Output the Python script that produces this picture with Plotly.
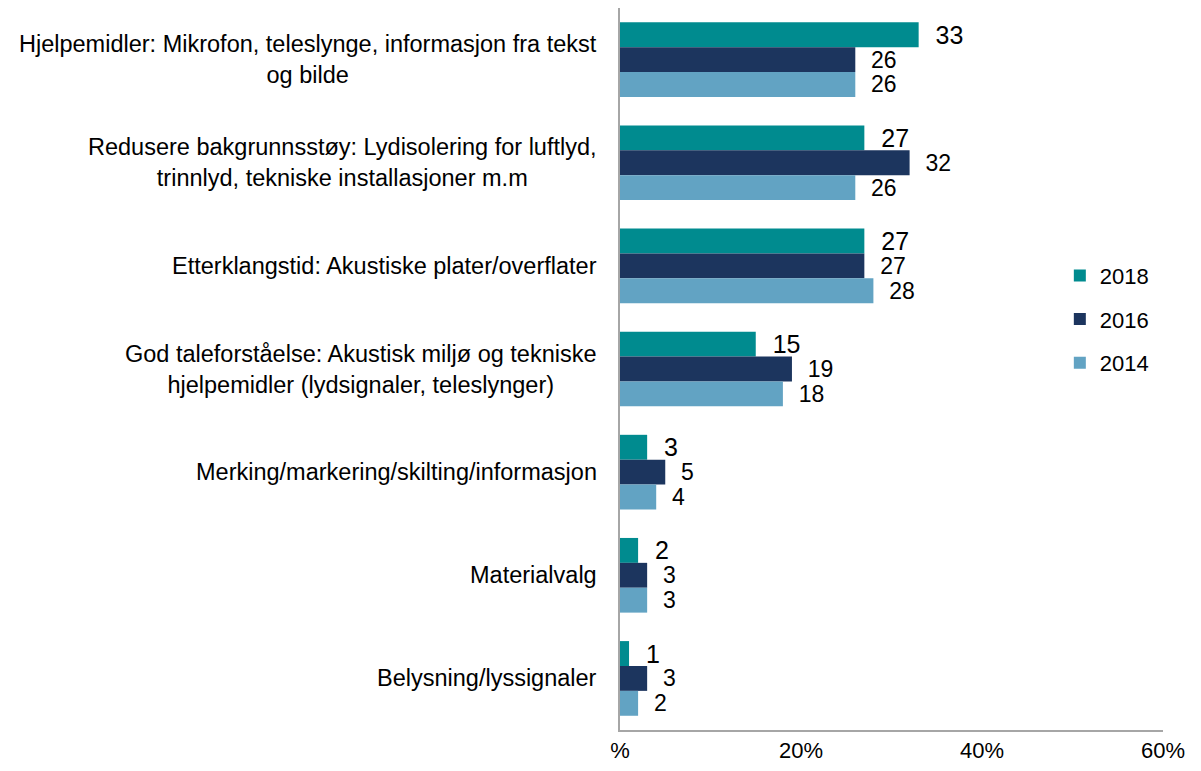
import plotly.graph_objects as go

categories = [
    "Hjelpemidler: Mikrofon, teleslynge, informasjon fra tekst<br>og bilde",
    "Redusere bakgrunnsstøy: Lydisolering for luftlyd,<br>trinnlyd, tekniske installasjoner m.m",
    "Etterklangstid: Akustiske plater/overflater",
    "God taleforståelse: Akustisk miljø og tekniske<br>hjelpemidler (lydsignaler, teleslynger)",
    "Merking/markering/skilting/informasjon",
    "Materialvalg",
    "Belysning/lyssignaler",
]
cat_keys = [f"c{i}" for i in range(len(categories))]

v2018 = [33, 27, 27, 15, 3, 2, 1]
v2016 = [26, 32, 27, 19, 5, 3, 3]
v2014 = [26, 26, 28, 18, 4, 3, 2]

x_tickvals = [0, 20, 40, 60]
x_ticktext = ["%", "20%", "40%", "60%"]

series = [
    ("2018", v2018, "#008B8F", 25),
    ("2016", v2016, "#1C355E", 23),
    ("2014", v2014, "#62A3C3", 23),
]

FONT = "Liberation Sans, Arial, sans-serif"

fig = go.Figure()
for name, vals, color, fs in series:
    fig.add_trace(go.Bar(
        y=cat_keys, x=vals, name=name, orientation="h",
        marker=dict(color=color, line=dict(width=0)),
        text=["\u00a0\u00a0" + str(v) for v in vals],
        textposition="outside", cliponaxis=False, constraintext="none",
        textfont=dict(size=fs, color="#000000", family=FONT),
        legendgroup=name,
    ))

annotations = []
for key, label in zip(cat_keys, categories):
    annotations.append(dict(
        x=0, xref="paper", y=key, yref="y", xanchor="right", yanchor="middle",
        xshift=-21, text=label, showarrow=False, align="center",
        font=dict(size=23.5, color="#000000", family=FONT),
    ))

fig.update_layout(
    width=1185, height=755,
    margin=dict(l=612, r=30, t=0, b=33),
    paper_bgcolor="white", plot_bgcolor="white",
    barmode="group", bargap=0.276, bargroupgap=0,
    font=dict(family=FONT, size=22, color="#000000"),
    showlegend=True,
    legend=dict(
        x=0.81, y=0.569, xanchor="left", yanchor="middle",
        traceorder="grouped", tracegroupgap=12,
        font=dict(size=22, family=FONT),
        bgcolor="rgba(0,0,0,0)",
    ),
    annotations=annotations,
)
fig.update_xaxes(
    range=[0, 60], tickvals=x_tickvals, ticktext=x_ticktext,
    showline=True, linecolor="#A6A6A6", linewidth=2,
    showgrid=False, zeroline=False, ticks="", automargin=False,
    tickfont=dict(size=22, family=FONT),
)
fig.update_yaxes(
    autorange="reversed", showticklabels=False,
    showline=True, linecolor="#A6A6A6", linewidth=2,
    showgrid=False, zeroline=False, ticks="", automargin=False,
)

fig.write_html("out.html")
